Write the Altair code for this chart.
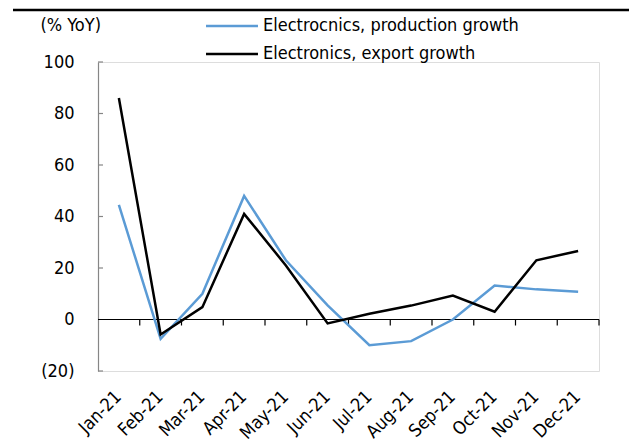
import altair as alt
import pandas as pd

months = ["Jan-21", "Feb-21", "Mar-21", "Apr-21", "May-21", "Jun-21",
          "Jul-21", "Aug-21", "Sep-21", "Oct-21", "Nov-21", "Dec-21"]
production = [44.5, -7.5, 10.0, 48.0, 23.0, 5.5, -10.0, -8.4, 0.0, 13.2, 11.7, 10.8]
export = [86.0, -5.8, 4.8, 41.0, 21.0, -1.5, 2.2, 5.4, 9.3, 3.0, 23.0, 26.6]
series_names = ["Electrocnics, production growth", "Electronics, export growth"]
series_colors = ["#5b9bd5", "#000000"]
y_ticks = [-20, 0, 20, 40, 60, 80, 100]

FONT = "DejaVu Sans Condensed"
FS = 18

df = pd.DataFrame({
    "month": months * 2,
    "value": production + export,
    "series": [series_names[0]] * len(months) + [series_names[1]] * len(months),
})
months_df = pd.DataFrame({"month": months})
ticks_df = pd.DataFrame({"v": [t for t in y_ticks if t != 0]})

x_scale = alt.Scale(type="band", domain=months, paddingInner=0, paddingOuter=0)
y_scale = alt.Scale(domain=[-20, 100], nice=False, zero=False)

lines = alt.Chart(df).mark_line(strokeWidth=2.5).encode(
    x=alt.X("month:N", sort=months, scale=x_scale, bandPosition=0.5,
            axis=alt.Axis(title=None, domain=False, ticks=False, tickSize=0,
                          labelAngle=-45, labelAlign="right", labelBaseline="middle",
                          labelPadding=23, labelFont=FONT, labelFontSize=FS,
                          labelColor="#000000")),
    y=alt.Y("value:Q", scale=y_scale,
            axis=alt.Axis(values=y_ticks, grid=False, ticks=False, domainColor="#868686",
                          domainWidth=1.2, labelFont=FONT, labelFontSize=FS,
                          labelColor="#000000", labelPadding=24,
                          labelExpr="datum.value < 0 ? '(' + format(-datum.value, 'd') + ')' : datum.label",
                          title="(% YoY)", titleAngle=0, titleAlign="left",
                          titleBaseline="middle", titleX=-58, titleY=-37,
                          titleFont=FONT, titleFontSize=FS, titleFontWeight="normal",
                          titleColor="#000000")),
    color=alt.Color("series:N", sort=series_names,
                    scale=alt.Scale(domain=series_names, range=series_colors),
                    legend=alt.Legend(title=None, orient="none", legendX=125, legendY=-45,
                                      symbolType="M-10,0H10", symbolSize=27,
                                      symbolStrokeWidth=2.5, labelOffset=22,
                                      labelFont=FONT, labelFontSize=FS,
                                      labelColor="#000000", rowPadding=10,
                                      labelLimit=400)),
    order=alt.Order("month_index:Q"),
).transform_calculate(month_index="indexof(" + str(months) + ", datum.month)")

zero_line = alt.Chart(months_df).mark_rule(color="#000000", strokeWidth=1.2).encode(
    y=alt.datum(0)
)

boundary_ticks = alt.Chart(months_df).mark_rule(color="#000000", strokeWidth=1.2, y2Offset=6).encode(
    x=alt.X("month:N", sort=months, scale=x_scale, bandPosition=1),
    y=alt.datum(0),
    y2=alt.datum(0),
)

y_inner_ticks = alt.Chart(ticks_df).mark_rule(color="#868686", strokeWidth=1.2).encode(
    y=alt.Y("v:Q", scale=y_scale),
    x=alt.value(0),
    x2=alt.value(5),
)

top_rule = alt.Chart(months_df.head(1)).mark_rule(color="#000000", strokeWidth=2.5).encode(
    x=alt.value(-85), x2=alt.value(531), y=alt.value(-52)
)

chart = alt.layer(zero_line, boundary_ticks, y_inner_ticks, lines, top_rule).properties(
    width=501, height=309,
    autosize=alt.AutoSizeParams(type="none"),
    padding={"left": 90, "top": 54, "right": 30, "bottom": 72},
).configure_view(stroke=None).configure(background="#ffffff")

chart.save("out.html", embed_options={"renderer": "svg", "actions": False})
